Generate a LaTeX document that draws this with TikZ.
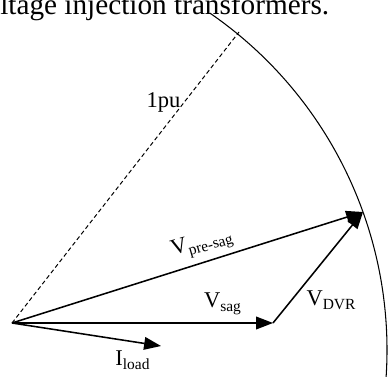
\documentclass[tikz,border=0pt]{standalone}
\usepackage{fontspec}
\setmainfont{Liberation Serif}
\usetikzlibrary{arrows.meta}
\newcommand{\phsub}[2]{#1\raisebox{-0.45ex}{\fontsize{11}{11}\selectfont #2}}

\begin{document}
\begin{tikzpicture}[x=0.025cm, y=0.025cm, >={Triangle[length=12pt, width=9pt]},
    lbl/.style={font=\fontsize{16}{19}\selectfont, inner sep=0pt, anchor=base}]
  \useasboundingbox (0,0) rectangle (388,376);
  \coordinate (O) at (12,53);
  \coordinate (Vs) at (273,53);
  \coordinate (Vp) at (363,164);
  \coordinate (Il) at (161,30);
  \coordinate (P1) at (239,344);
  \coordinate (C) at (-22,26);

  % caption line cut at the top
  \node[font=\fontsize{20.8}{24}\selectfont, inner sep=0pt, anchor=base west] (cap) at (0,361)
    {ltage injection transformers.};

  \draw[line width=0.75pt] ([shift={(55.5:409)}]C) arc[start angle=55.5, end angle=-5, radius=409];
  \draw[densely dashed, line width=0.7pt] (O) -- (P1);
  \node[lbl] (lpu) at (163.5,268) {1pu};

  \draw[->, line width=1.1pt] (O) -- (Vp);
  \draw[->, line width=1.1pt] (O) -- (Vs);
  \draw[->, line width=1.1pt] (Vs) -- (Vp);
  \draw[->, line width=1.1pt] (O) -- (Il);

  \node[lbl, anchor=center, rotate=16] (lvp) at (202,132) {\phsub{V}{pre-sag}};
  \node[lbl] (lvs) at (222.5,69) {\phsub{V}{sag}};
  \node[lbl] (lvd) at (331,71) {\phsub{V}{DVR}};
  \node[lbl] (lil) at (132.5,11) {\phsub{I}{load}};
\end{tikzpicture}
\end{document}
